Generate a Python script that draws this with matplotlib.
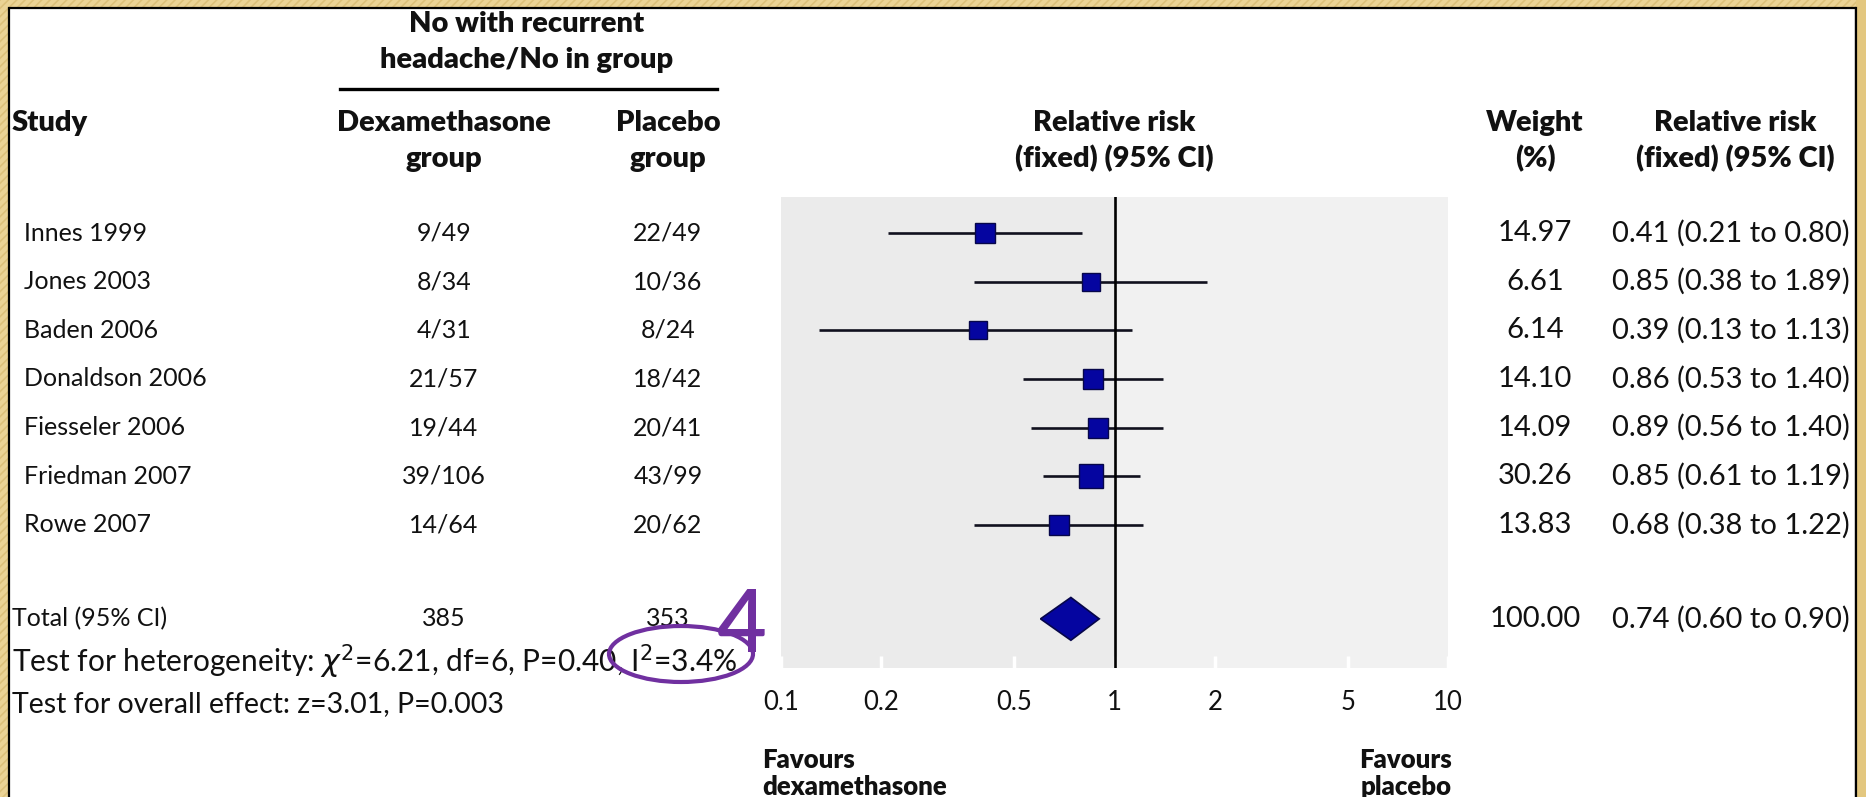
import matplotlib.pyplot as plt
import numpy as np
from matplotlib.patches import Rectangle, Ellipse
from matplotlib.ticker import NullLocator
from matplotlib.transforms import blended_transform_factory

# Datos del forest plot
studies = ['Innes 1999', 'Jones 2003', 'Baden 2006', 'Donaldson 2006',
           'Fiesseler 2006', 'Friedman 2007', 'Rowe 2007']
dex_events = [9, 8, 4, 21, 19, 39, 14]
dex_total = [49, 34, 31, 57, 44, 106, 64]
plc_events = [22, 10, 8, 18, 20, 43, 20]
plc_total = [49, 36, 24, 42, 41, 99, 62]
weights = [14.97, 6.61, 6.14, 14.10, 14.09, 30.26, 13.83]
rr = [0.41, 0.85, 0.39, 0.86, 0.89, 0.85, 0.68]
rr_lo = [0.21, 0.38, 0.13, 0.53, 0.56, 0.61, 0.38]
rr_hi = [0.80, 1.89, 1.13, 1.40, 1.40, 1.19, 1.22]

total_dex = 385
total_plc = 353
total_weight = 100.00
total_rr, total_lo, total_hi = 0.74, 0.60, 0.90

x_ticks = [0.1, 0.2, 0.5, 1, 2, 5, 10]
x_ticklabels = ['0.1', '0.2', '0.5', '1', '2', '5', '10']

het_text = r'Test for heterogeneity: $\chi^2$=6.21, df=6, P=0.40, I$^2$=3.4%'
overall_text = 'Test for overall effect: z=3.01, P=0.003'

plt.rcParams['font.family'] = ['Lato', 'DejaVu Sans']
plt.rcParams['hatch.linewidth'] = 1.2

W, H = 1866, 797
fig = plt.figure(figsize=(W / 100, H / 100), dpi=100)
fig.patch.set_facecolor('#ebd395')


def fx(px):
    return px / W


def fy(py):
    return 1 - py / H


# Marco dorado con textura y panel blanco
fig.patches.append(Rectangle((0, 0), 1, 1, transform=fig.transFigure,
                             facecolor='none', edgecolor='#dcc07a',
                             hatch='////', lw=0, zorder=-3))
fig.patches.append(Rectangle((fx(9), fy(820)), fx(1856) - fx(9), fy(8) - fy(820),
                             transform=fig.transFigure, facecolor='white',
                             edgecolor='black', lw=1.6, zorder=-1))

# Eje del grafico
ax = fig.add_axes([fx(781), fy(668), fx(1448) - fx(781), fy(197) - fy(668)])
ax.set_xscale('log')
ax.set_xlim(0.1, 10)
ax.set_ylim(8.94, -0.74)
ax.set_facecolor('#ebebeb')
ax.axvspan(1, 10, color='#f1f1f1', lw=0, zorder=0)
for s in ax.spines.values():
    s.set_visible(False)

rows = np.arange(len(studies))
total_y = 7.93

ax.hlines(rows, rr_lo, rr_hi, color='#10101e', lw=1.9, zorder=2)
for y, r, w in zip(rows, rr, weights):
    side = (16 + 0.28 * w) / (100 / 72)
    ax.plot(r, y, 's', ms=side, mfc='#0505a0', mec='#06064a', mew=1.0, zorder=3)

ax.fill([total_lo, total_rr, total_hi, total_rr],
        [total_y, total_y - 0.44, total_y, total_y + 0.44],
        facecolor='#0505a0', edgecolor='#06064a', lw=1.2, zorder=3)

ax.axvline(1, color='black', lw=1.9, zorder=4)

ax.set_xticks(x_ticks, x_ticklabels)
ax.xaxis.set_minor_locator(NullLocator())
ax.set_yticks([])
ax.tick_params(axis='x', direction='in', length=9, width=2.5, color='white',
               pad=16, labelsize=18.5, labelcolor='#111111')

# Textos de la tabla
trans = blended_transform_factory(fig.transFigure, ax.transData)
body = dict(fontsize=18, color='#111111', va='center', transform=trans)
body_r = dict(body, fontsize=21)

for y, s, de, dt, pe, pt, w, r, lo, hi in zip(rows, studies, dex_events, dex_total,
                                              plc_events, plc_total, weights,
                                              rr, rr_lo, rr_hi):
    fig.text(fx(24), y, s, ha='left', **body)
    fig.text(fx(444), y, f'{de}/{dt}', ha='center', **body)
    fig.text(fx(668), y, f'{pe}/{pt}', ha='center', **body)
    fig.text(fx(1535), y, f'{w:.2f}', ha='center', **body_r)
    fig.text(fx(1612), y, f'{r:.2f} ({lo:.2f} to {hi:.2f})', ha='left', **body_r)

fig.text(fx(12), total_y, 'Total (95% CI)', ha='left', **body)
fig.text(fx(444), total_y, f'{total_dex}', ha='center', **body)
fig.text(fx(668), total_y, f'{total_plc}', ha='center', **body)
fig.text(fx(1535), total_y, f'{total_weight:.2f}', ha='center', **body_r)
fig.text(fx(1612), total_y, f'{total_rr:.2f} ({total_lo:.2f} to {total_hi:.2f})',
         ha='left', **body_r)

fig.text(fx(12), fy(662), het_text, fontsize=21.5, color='#111111', ha='left', va='center')
fig.text(fx(12), fy(704), overall_text, fontsize=20.5, color='#111111', ha='left', va='center')

# Encabezados
head = dict(fontsize=21, fontweight='heavy', color='#111111', va='center')
fig.text(fx(527), fy(24), 'No with recurrent', ha='center', **head)
fig.text(fx(527), fy(60), 'headache/No in group', ha='center', **head)
fig.add_artist(plt.Line2D([fx(340), fx(717)], [fy(89), fy(89)], color='black', lw=2.4))
fig.text(fx(12), fy(123), 'Study', ha='left', **head)
fig.text(fx(444), fy(123), 'Dexamethasone', ha='center', **head)
fig.text(fx(444), fy(159), 'group', ha='center', **head)
fig.text(fx(668), fy(123), 'Placebo', ha='center', **head)
fig.text(fx(668), fy(159), 'group', ha='center', **head)
fig.text(fx(1114), fy(123), 'Relative risk', ha='center', **head)
fig.text(fx(1114), fy(159), '(fixed) (95% CI)', ha='center', **head)
fig.text(fx(1535), fy(123), 'Weight', ha='center', **head)
fig.text(fx(1535), fy(159), '(%)', ha='center', **head)
fig.text(fx(1735), fy(123), 'Relative risk', ha='center', **head)
fig.text(fx(1735), fy(159), '(fixed) (95% CI)', ha='center', **head)

fav = dict(head, fontsize=18.5)
fig.text(fx(762), fy(760), 'Favours', ha='left', **fav)
fig.text(fx(762), fy(787), 'dexamethasone', ha='left', **fav)
fig.text(fx(1452), fy(760), 'Favours', ha='right', **fav)
fig.text(fx(1452), fy(787), 'placebo', ha='right', **fav)

# Anotacion morada
fig.text(fx(741), fy(652), '4', fontsize=62, fontweight='semibold', color='#7030a0',
         ha='center', va='baseline')
fig.patches.append(Ellipse((fx(681), fy(654)), fx(144), 56 / H, transform=fig.transFigure,
                           facecolor='none', edgecolor='#7030a0', lw=3, zorder=5))

# Borde derecho encima del texto que se sale
fig.patches.append(Rectangle((fx(1856), 0), 1 - fx(1856), 1, transform=fig.transFigure,
                             facecolor='#e3c77f', edgecolor='none', zorder=10))
fig.add_artist(plt.Line2D([fx(1856), fx(1856)], [0, fy(8)], color='black', lw=1.6, zorder=11))

fig.savefig('out.png', dpi=100, facecolor=fig.get_facecolor())
